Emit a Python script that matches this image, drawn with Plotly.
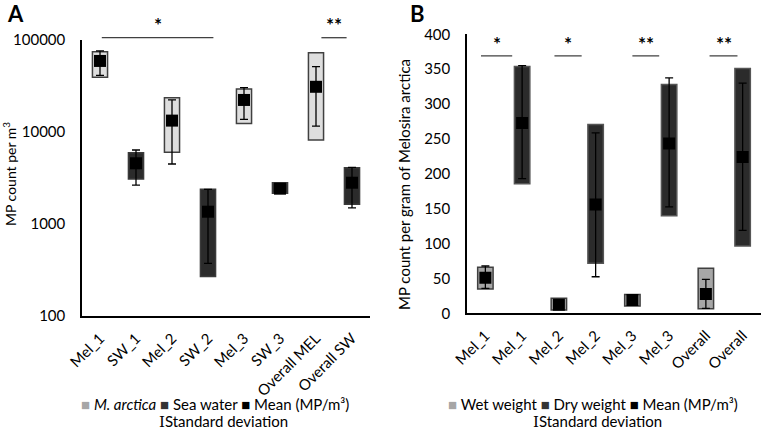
import plotly.graph_objects as go

# Panel A: MP per m3 (log scale)
cats_a = ["Mel_1", "SW_1", "Mel_2", "SW_2", "Mel_3", "SW_3", "Overall MEL", "Overall SW"]
kind_a = ["mel", "sw", "mel", "sw", "mel", "sw", "mel", "sw"]
box_lo_a = [39400, 3080, 6010, 268, 12400, 2160, 8180, 1640]
box_hi_a = [74600, 5960, 23600, 2380, 29300, 2810, 72800, 4090]
mean_a = [59200, 4570, 13300, 1360, 22300, 2420, 31000, 2810]
err_hi_a = [76000, 6370, 22300, 2380, 30300, 2650, 51300, 4120]
err_lo_a = [41300, 2650, 4490, 374, 13700, 2250, 11600, 1500]

# Panel B: MP per gram of Melosira arctica
cats_b = ["Mel_1", "Mel_1", "Mel_2", "Mel_2", "Mel_3", "Mel_3", "Overall", "Overall"]
kind_b = ["wet", "dry", "wet", "dry", "wet", "dry", "wet", "dry"]
box_lo_b = [34.8, 185.7, 4.7, 71.6, 10.5, 140, 6.6, 96.4]
box_hi_b = [65.9, 354, 21.5, 270.8, 27, 328, 64.5, 351]
mean_b = [51, 273, 12.3, 156, 19, 243.6, 27.7, 224]
err_hi_b = [67.8, 355, 18, 258.7, 26, 337.6, 48.7, 330]
err_lo_b = [35.8, 193, 7, 52.4, 12, 152.7, 7, 119]

FONT = "Lato"
W, H = 762, 431
fig = go.Figure()

def add_boxes(xa, ya, lo, hi, kinds, styles):
    for k, (fill, line) in styles.items():
        idx = [i for i, t in enumerate(kinds) if t == k]
        fig.add_trace(go.Bar(
            x=idx, base=[lo[i] for i in idx], y=[hi[i] - lo[i] for i in idx],
            width=0.42, marker=dict(color=fill, line=dict(color=line, width=1.5)),
            xaxis=xa, yaxis=ya, showlegend=False, hoverinfo="skip"))

def add_means(xa, ya, mean, ehi, elo):
    fig.add_trace(go.Scatter(
        x=list(range(len(mean))), y=mean, mode="markers",
        marker=dict(symbol="square", size=12, color="black"),
        error_y=dict(type="data", symmetric=False,
                     array=[h - m for h, m in zip(ehi, mean)],
                     arrayminus=[m - l for m, l in zip(mean, elo)],
                     color="black", thickness=1.3, width=4),
        xaxis=xa, yaxis=ya, showlegend=False))

add_boxes("x", "y", box_lo_a, box_hi_a, kind_a, {"mel": ("#dedede", "#404040"), "sw": ("#2b2b2b", "#3a3a3a")})
add_means("x", "y", mean_a, err_hi_a, err_lo_a)
add_boxes("x2", "y2", box_lo_b, box_hi_b, kind_b, {"wet": ("#a6a6a6", "#404040"), "dry": ("#2b2b2b", "#555555")})
add_means("x2", "y2", mean_b, err_hi_b, err_lo_b)

tickfont = dict(family=FONT, size=15, color="black")
axis_common = dict(showgrid=False, zeroline=False, showline=True, linecolor="black", linewidth=1.5,
                   ticks="", tickfont=tickfont, automargin=False)

fig.update_layout(
    width=W, height=H, margin=dict(l=0, r=0, t=0, b=0),
    paper_bgcolor="white", plot_bgcolor="white", barmode="overlay",
    font=dict(family=FONT, color="black"),
    xaxis=dict(domain=[82 / W, 370 / W], range=[-0.5, 7.5], tickmode="array",
               tickvals=list(range(8)), ticktext=cats_a, tickangle=-45, ticklabelstandoff=6,
               **axis_common),
    yaxis=dict(domain=[1 - 316 / H, 1 - 40 / H], type="log", range=[2, 5],
               tickvals=[100, 1000, 10000, 100000], ticktext=["100", "1000", "10000", "100000"],
               anchor="x", ticklabelstandoff=12, **axis_common),
    xaxis2=dict(domain=[467 / W, 761 / W], range=[-0.5, 7.5], tickmode="array",
                tickvals=list(range(8)), ticktext=cats_b, tickangle=-45, anchor="y2",
                ticklabelstandoff=6, **axis_common),
    yaxis2=dict(domain=[1 - 313.3 / H, 1 - 34.3 / H], range=[0, 400], dtick=50,
                anchor="x2", ticklabelstandoff=12, **axis_common),
)

def note(x, y, text, size=15, angle=0, xref="paper", yref="paper"):
    if xref == "paper":
        x = x / W
    if yref == "paper":
        y = 1 - y / H
    fig.add_annotation(xref=xref, yref=yref, x=x, y=y, text=text, textangle=angle,
                       xanchor="center", yanchor="middle", showarrow=False,
                       font=dict(family=FONT, size=size, color="black"))

# significance markers
sig_a = [(0.05, 3.15, "*"), (6.15, 6.85, "**")]
for x0, x1, s in sig_a:
    fig.add_shape(type="line", xref="x", yref="paper", x0=x0, x1=x1,
                  y0=1 - 37.7 / H, y1=1 - 37.7 / H, line=dict(color="#404040", width=1.3))
    note((x0 + x1) / 2, 25, "<b>" + s + "</b>", size=19, xref="x")
sig_b = [(-0.12, 0.73, "*"), (1.88, 2.62, "*"), (4.0, 4.73, "**"), (6.1, 6.86, "**")]
for x0, x1, s in sig_b:
    fig.add_shape(type="line", xref="x2", yref="y2", x0=x0, x1=x1, y0=369, y1=369,
                  line=dict(color="#404040", width=1.3))
    note((x0 + x1) / 2, 387, "<b>" + s + "</b>", size=19, xref="x2", yref="y2")

# panel letters and axis titles
note(15, 13, "<b>A</b>", size=22)
note(418, 13, "<b>B</b>", size=22)
note(9, 174, "MP count per m<sup>3</sup>", size=14, angle=-90)
note(404, 185, "MP count per gram of Melosira arctica", angle=-90)

# legends
sq = lambda c: f'<span style="color:{c}">■</span>'
leg_a = sq("#a6a6a6") + " <i>M. arctica</i> " + sq("#333333") + " Sea water " + sq("black") + " Mean (MP/m³)"
leg_b = sq("#a6a6a6") + " Wet weight " + sq("#333333") + " Dry weight " + sq("black") + " Mean (MP/m³)"
std = '<span style="font-family:DejaVu Serif">I</span>Standard deviation'
note(215, 404, leg_a)
note(593, 404, leg_b)
note(223, 421, std)
note(597, 421, std)

# drop the default page margin so the figure sits at the window origin
fig.write_html("out.html", config={"displayModeBar": False},
               post_script="document.body.style.margin='0px';")
